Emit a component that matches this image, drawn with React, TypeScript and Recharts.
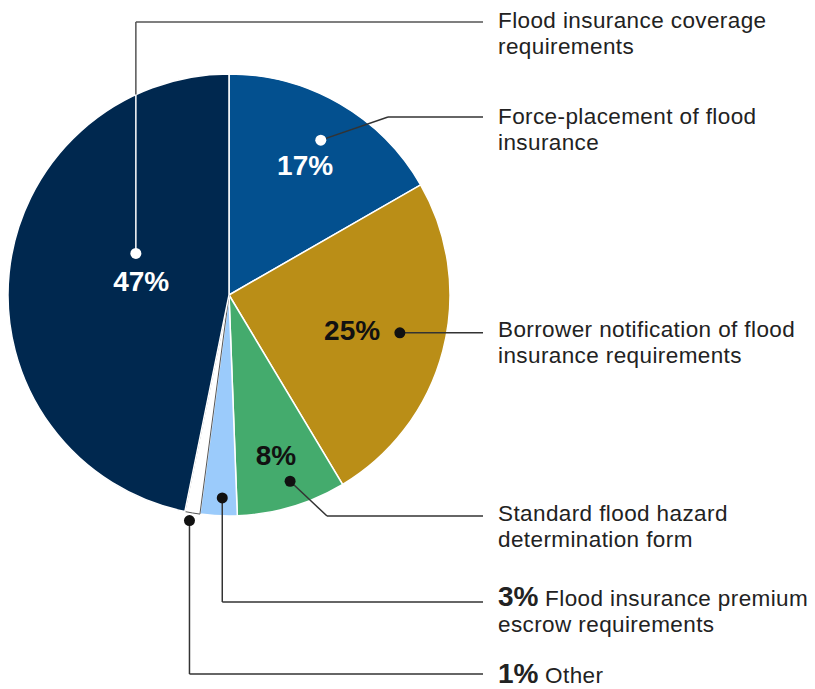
import { PieChart, Pie, Cell } from "recharts";

// slices, clockwise from 12 o'clock
const categories = [
  "Force-placement of flood insurance",
  "Borrower notification of flood insurance requirements",
  "Standard flood hazard determination form",
  "Flood insurance premium escrow requirements",
  "Other",
  "Flood insurance coverage requirements",
];
// slice sizes as drawn (percent), the printed labels are rounded
const shares = [16.7, 24.7, 8.0, 2.7, 1.1, 46.8];
const shareLabels = ["17%", "25%", "8%", "3%", "1%", "47%"];
const nameLines = [
  ["Force-placement of flood", "insurance"],
  ["Borrower notification of flood", "insurance requirements"],
  ["Standard flood hazard", "determination form"],
  ["Flood insurance premium", "escrow requirements"],
  ["Other"],
  ["Flood insurance coverage", "requirements"],
];
const colors = ["#03508F", "#BA8E17", "#44AB6D", "#9BCBFB", "#FFFFFF", "#00284F"];

const data = categories.map((name, i) => ({ name, value: shares[i] }));

// annotation layout (radii in px, shifts in degrees clockwise)
const layout = [
  { inside: true, labelR: 151, labelShift: 0.2, labelColor: "#fff", dotR: 180, dotShift: 0.6, dotColor: "#fff", leader: "diag", elbowX: 388, lineY: 117, textY: 124 },
  { inside: true, labelR: 128, labelShift: 1.3, labelColor: "#111", dotR: 175, dotShift: -2.1, dotColor: "#111", leader: "flat", elbowX: 0, lineY: 0, textY: 337 },
  { inside: true, labelR: 167, labelShift: 0.2, labelColor: "#111", dotR: 196, dotShift: -1.6, dotColor: "#111", leader: "diag", elbowX: 327, lineY: 516, textY: 521 },
  { inside: false, labelR: 0, labelShift: 0, labelColor: "#111", dotR: 203, dotShift: -0.8, dotColor: "#111", leader: "vert", elbowX: 0, lineY: 602, textY: 606 },
  { inside: false, labelR: 0, labelShift: 0, labelColor: "#111", dotR: 229, dotShift: 0.4, dotColor: "#111", leader: "vert", elbowX: 0, lineY: 674, textY: 683 },
  { inside: true, labelR: 89, labelShift: 3.6, labelColor: "#fff", dotR: 102, dotShift: 18.3, dotColor: "#fff", leader: "vert", elbowX: 0, lineY: 22, textY: 28 },
];

const RAD = Math.PI / 180;
const LINE_END = 483;
const TEXT_X = 498;
const lineColor = "#333";
const FONT = "'Liberation Sans', Arial, sans-serif";

function polar(cx: number, cy: number, r: number, angle: number) {
  return { x: cx + r * Math.cos(-angle * RAD), y: cy + r * Math.sin(-angle * RAD) };
}

function renderLabel(props: any) {
  const { cx, cy, midAngle, outerRadius } = props;
  let i = typeof props.index === "number" ? props.index : categories.indexOf(props.name);
  if (i < 0) i = categories.indexOf(props.payload?.name);
  const cfg = layout[i];
  const dot = polar(cx, cy, cfg.dotR, midAngle - cfg.dotShift);
  const lab = polar(cx, cy, cfg.labelR, midAngle - cfg.labelShift);

  const segs: { x1: number; y1: number; x2: number; y2: number; c: string }[] = [];
  if (cfg.leader === "flat") {
    segs.push({ x1: dot.x, y1: dot.y, x2: LINE_END, y2: dot.y, c: lineColor });
  } else if (cfg.leader === "diag") {
    segs.push({ x1: dot.x, y1: dot.y, x2: cfg.elbowX, y2: cfg.lineY, c: lineColor });
    segs.push({ x1: cfg.elbowX, y1: cfg.lineY, x2: LINE_END, y2: cfg.lineY, c: lineColor });
  } else {
    if (cfg.dotColor === "#fff" && cfg.lineY < dot.y) {
      // white inside the slice, grey once it leaves the pie
      const dx = dot.x - cx;
      const edgeY = cy - Math.sqrt(outerRadius * outerRadius - dx * dx);
      segs.push({ x1: dot.x, y1: dot.y, x2: dot.x, y2: edgeY, c: "#fff" });
      segs.push({ x1: dot.x, y1: edgeY, x2: dot.x, y2: cfg.lineY, c: "#555" });
      segs.push({ x1: dot.x, y1: cfg.lineY, x2: LINE_END, y2: cfg.lineY, c: "#555" });
    } else {
      segs.push({ x1: dot.x, y1: dot.y, x2: dot.x, y2: cfg.lineY, c: lineColor });
      segs.push({ x1: dot.x, y1: cfg.lineY, x2: LINE_END, y2: cfg.lineY, c: lineColor });
    }
  }

  const lines = nameLines[i];
  return (
    <g key={`lab-${i}`}>
      {segs.map((s, k) => (
        <line key={k} x1={s.x1} y1={s.y1} x2={s.x2} y2={s.y2} stroke={s.c} strokeWidth={1.5} />
      ))}
      <circle cx={dot.x} cy={dot.y} r={5.5} fill={cfg.dotColor} />
      {cfg.inside && (
        <text
          x={lab.x}
          y={lab.y + 10}
          textAnchor="middle"
          fill={cfg.labelColor}
          fontSize={28}
          fontWeight="bold"
          fontFamily={FONT}
        >
          {shareLabels[i]}
        </text>
      )}
      <text
        x={TEXT_X}
        y={cfg.textY}
        fill="#222"
        fontSize={22.5}
        fontFamily={FONT}
        style={{ letterSpacing: "0.4px" }}
      >
        {lines.map((ln, k) => (
          <tspan key={k} x={TEXT_X} y={cfg.textY + k * 26}>
            {k === 0 && !cfg.inside && (
              <tspan fontSize={28} fontWeight="bold" style={{ letterSpacing: "0px" }}>
                {shareLabels[i]}
              </tspan>
            )}
            {k === 0 && !cfg.inside ? " " + ln : ln}
          </tspan>
        ))}
      </text>
    </g>
  );
}

export default function App() {
  return (
    <div style={{ position: "absolute", left: 0, top: 0, background: "#fff" }}>
      <PieChart width={815} height={689} margin={{ top: 0, right: 0, bottom: 0, left: 0 }}>
        <Pie
          data={data}
          dataKey="value"
          nameKey="name"
          cx={229}
          cy={295}
          innerRadius={0}
          outerRadius={221}
          startAngle={90}
          endAngle={-270}
          stroke="#fff"
          strokeWidth={1.5}
          label={renderLabel}
          labelLine={false}
          isAnimationActive={false}
        >
          {data.map((d, i) => (
            <Cell
              key={d.name}
              fill={colors[i]}
              stroke={d.name === "Other" ? "#555" : "#fff"}
              strokeWidth={d.name === "Other" ? 1 : 1.5}
            />
          ))}
        </Pie>
      </PieChart>
    </div>
  );
}
